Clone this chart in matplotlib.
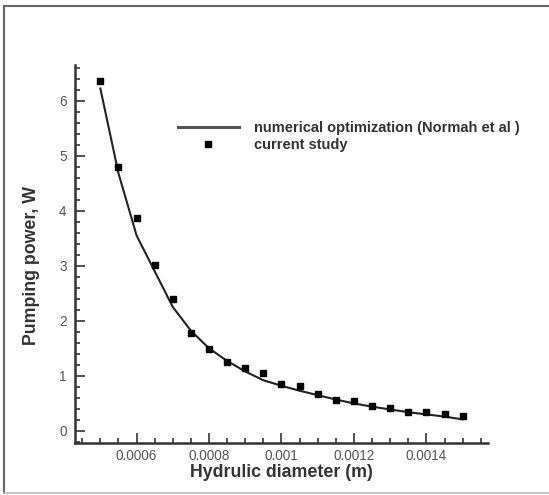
import numpy as np
import matplotlib
matplotlib.use("Agg")
import matplotlib.pyplot as plt
from matplotlib.lines import Line2D
from matplotlib.ticker import MultipleLocator, FuncFormatter

plt.rcParams['font.family'] = ['Liberation Sans', 'DejaVu Sans']

# hydraulic diameter (m)
diameter = [0.0005, 0.00055, 0.0006, 0.00065, 0.0007, 0.00075, 0.0008, 0.00085,
            0.0009, 0.00095, 0.001, 0.00105, 0.0011, 0.00115, 0.0012, 0.00125,
            0.0013, 0.00135, 0.0014, 0.00145, 0.0015]

# numerical optimization (Normah et al)
power_ref = [6.22, 4.68, 3.55, 2.90, 2.25, 1.82, 1.50, 1.27, 1.08, 0.92, 0.82,
             0.73, 0.65, 0.57, 0.50, 0.44, 0.39, 0.34, 0.30, 0.26, 0.21]

# current study
power_cur = [6.36, 4.80, 3.87, 3.01, 2.40, 1.78, 1.48, 1.26, 1.15, 1.05, 0.86,
             0.81, 0.67, 0.56, 0.55, 0.46, 0.41, 0.35, 0.35, 0.30, 0.27]

fig = plt.figure(figsize=(5.49, 4.95), dpi=100)
ax = fig.add_axes([0.1366, 0.105, 0.7523, 0.764])

ax.plot(diameter, power_ref, color='#222222', lw=1.5)
ax.plot(diameter, power_cur, 's', color='black', ms=4.5, lw=0)

ax.set_xlim(0.00043, 0.00157)
ax.set_ylim(-0.22, 6.65)

for s in ['top', 'right']:
    ax.spines[s].set_visible(False)
for s in ['left', 'bottom']:
    ax.spines[s].set_linewidth(1.8)
    ax.spines[s].set_color('#333333')

ax.xaxis.set_major_locator(MultipleLocator(0.0002))
ax.xaxis.set_minor_locator(MultipleLocator(0.00005))
ax.yaxis.set_major_locator(MultipleLocator(1))
ax.yaxis.set_minor_locator(MultipleLocator(0.2))
ax.xaxis.set_major_formatter(FuncFormatter(lambda v, p: ('%g' % round(v, 6))))

ax.tick_params(which='both', direction='in', color='#333333', width=1.2)
ax.tick_params(which='major', length=7)
ax.tick_params(which='minor', length=3.5)
ax.tick_params(axis='x', which='major', labelsize=9.8, labelcolor='#555555', pad=4)
ax.tick_params(axis='y', which='major', labelsize=9.8, labelcolor='#555555', pad=6)

ax.set_xlabel('Hydrulic diameter (m)', fontsize=12.8, fontweight='bold', color='#333333')
ax.set_ylabel('Pumping power, W', fontsize=12.8, fontweight='bold', color='#333333')
ax.xaxis.set_label_coords(0.5, -0.056)
ax.yaxis.set_label_coords(-0.085, 0.47)

handles = [Line2D([], [], color='#555555', lw=2.2),
           Line2D([], [], ls='none', marker='s', color='black', ms=4.5)]
labels = ['numerical optimization (Normah et al )', 'current study']
leg = ax.legend(handles, labels, loc='upper left', bbox_to_anchor=(0.249, 0.852),
                frameon=False, fontsize=10.5, handlelength=4.2, handletextpad=1.0,
                labelspacing=0.25, borderpad=0, borderaxespad=0)
for t in leg.get_texts():
    t.set_fontweight('bold')
    t.set_color('#333333')

# outer frame of the figure
fig.add_artist(Line2D([4 / 549, 4 / 549], [1 - 6 / 495, 1 - 493 / 495],
                      transform=fig.transFigure, color='#666666', lw=1.5))
fig.add_artist(Line2D([4 / 549, 1], [1 - 6 / 495, 1 - 6 / 495],
                      transform=fig.transFigure, color='#666666', lw=1.5))
fig.add_artist(Line2D([4 / 549, 1], [1 - 493 / 495, 1 - 493 / 495],
                      transform=fig.transFigure, color='#bbbbbb', lw=1.2))

fig.savefig('out.png', dpi=100)
